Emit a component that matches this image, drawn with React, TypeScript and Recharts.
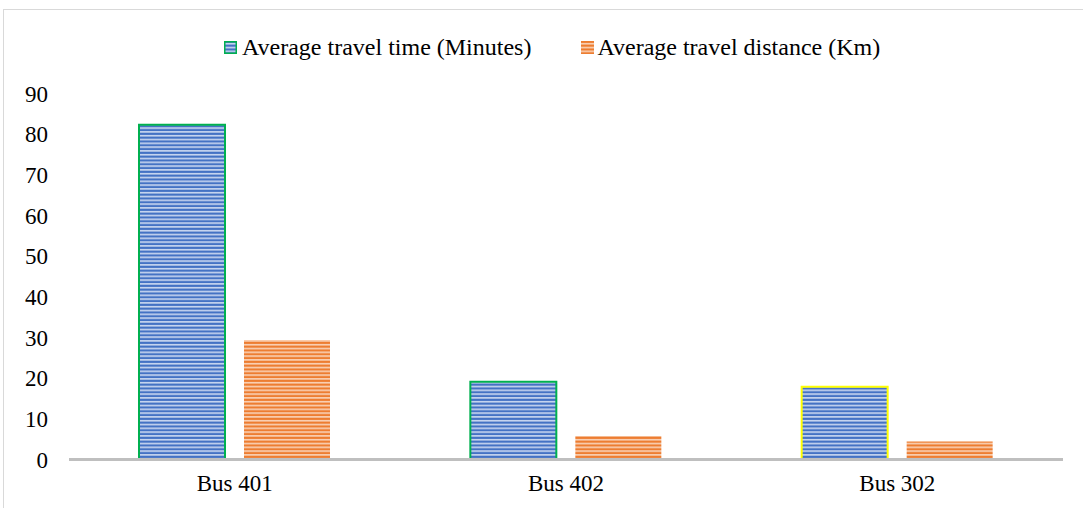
import React from "react";
import { BarChart, Bar, XAxis, YAxis, Legend, Cell } from "recharts";

const categories = ["Bus 401", "Bus 402", "Bus 302"];
const travelTime = [82.3, 19.1, 17.9];
const travelDistance = [29.4, 5.8, 4.4];
const yTicks = [0, 10, 20, 30, 40, 50, 60, 70, 80, 90];
const seriesNames = ["Average travel time (Minutes)", "Average travel distance (Km)"];

const timeOutline = ["#00B050", "#00B050", "#FFFF00"];

const data = categories.map((c, i) => ({
  name: c,
  time: travelTime[i],
  distance: travelDistance[i],
}));

const FONT = '"Liberation Serif", "Times New Roman", serif';

const LegendContent = () => (
  <div
    style={{
      display: "flex",
      alignItems: "center",
      paddingLeft: 224,
      fontFamily: FONT,
      fontSize: 24,
      color: "#000",
      whiteSpace: "nowrap",
      lineHeight: "26px",
    }}
  >
    <svg width={13} height={13} style={{ marginRight: 5 }}>
      <rect x={0.75} y={0.75} width={11.5} height={11.5} fill="url(#blueStripes)" stroke="#00B050" strokeWidth={1.5} />
    </svg>
    <span>{seriesNames[0]}</span>
    <svg width={13} height={13} style={{ marginLeft: 50, marginRight: 3 }}>
      <rect x={0} y={0} width={13} height={13} fill="url(#orangeStripes)" />
    </svg>
    <span>{seriesNames[1]}</span>
  </div>
);

export default function App() {
  return (
    <div style={{ position: "absolute", left: 0, top: 0, width: 1083, height: 508, background: "#fff" }}>
      <div
        style={{
          position: "absolute",
          left: 3,
          top: 9,
          right: 0,
          bottom: 0,
          borderTop: "1.5px solid #D9D9D9",
          borderLeft: "1.5px solid #D9D9D9",
        }}
      />
      <BarChart
        width={1083}
        height={508}
        data={data}
        margin={{ top: 93.5, right: 20, left: 9, bottom: 8.5 }}
        barSize={86}
        barGap={19}
        style={{ position: "absolute", left: 0, top: 0 }}
      >
        <defs>
          <pattern id="blueStripes" patternUnits="userSpaceOnUse" width={8} height={3.8}>
            <rect x={0} y={0} width={8} height={3.8} fill="#4472C4" />
            <rect x={0} y={1.9} width={8} height={1.6} fill="#CBD8F1" />
          </pattern>
          <pattern id="orangeStripes" patternUnits="userSpaceOnUse" width={8} height={3.8}>
            <rect x={0} y={0} width={8} height={3.8} fill="#ED7D31" />
            <rect x={0} y={1.9} width={8} height={1.6} fill="#FAD3B8" />
          </pattern>
        </defs>
        <XAxis
          dataKey="name"
          height={40}
          axisLine={{ stroke: "#BFBFBF", strokeWidth: 3 }}
          tickLine={false}
          tickSize={0}
          tickMargin={15.5}
          tick={{ fill: "#000", fontSize: 23, fontFamily: FONT }}
        />
        <YAxis
          width={60}
          domain={[0, 90]}
          ticks={yTicks}
          axisLine={false}
          tickLine={false}
          tickSize={0}
          tickMargin={21}
          tick={{ fill: "#000", fontSize: 23, fontFamily: FONT }}
        />
        <Legend
          layout="horizontal"
          verticalAlign="middle"
          align="center"
          wrapperStyle={{ top: 34, left: 0, width: 1083 }}
          content={<LegendContent />}
        />
        <Bar dataKey="time" name={seriesNames[0]} fill="url(#blueStripes)" strokeWidth={2} isAnimationActive={false}>
          {data.map((d, i) => (
            <Cell key={d.name} fill="url(#blueStripes)" stroke={timeOutline[i]} strokeWidth={2} />
          ))}
        </Bar>
        <Bar dataKey="distance" name={seriesNames[1]} fill="url(#orangeStripes)" isAnimationActive={false} />
      </BarChart>
    </div>
  );
}
